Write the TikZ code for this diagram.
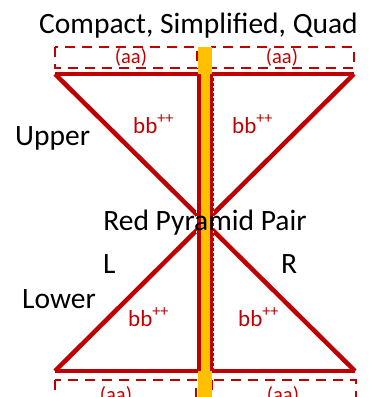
\documentclass[tikz,border=0pt]{standalone}
\usepackage{fontspec}
\setmainfont{Carlito}
\usepackage{xcolor}
\usetikzlibrary{positioning, calc}
\definecolor{pyrred}{HTML}{C00000}
\definecolor{baryellow}{HTML}{FFC000}

\begin{document}
\begin{tikzpicture}[x=1pt,y=-1pt,
    edge/.style={pyrred, line width=4.5pt},
    aabox/.style={pyrred, line width=2.5pt, dash pattern=on 10pt off 7pt},
    bigtxt/.style={font=\fontsize{29.5}{31}\selectfont, inner sep=0pt},
    bbtxt/.style={text=pyrred, font=\fontsize{23}{25}\selectfont, inner sep=0pt},
    aatxt/.style={text=pyrred, font=\fontsize{20.5}{22}\selectfont, inner sep=0pt}]

    \useasboundingbox (0,0) rectangle (372,397);
    \clip (0,0) rectangle (372,397);

    %--------------------------------
    % corners
    %--------------------------------
    \coordinate (tl) at (55,74);
    \coordinate (tr) at (354,74);
    \coordinate (bl) at (55,371);
    \coordinate (br) at (355,371);
    \coordinate (tml) at (198,74);
    \coordinate (tmr) at (211,74);
    \coordinate (bml) at (198,371);
    \coordinate (bmr) at (211,371);

    %--------------------------------
    % (aa) boxes
    %--------------------------------
    \draw[aabox] (55,47) rectangle (197,68);
    \draw[aabox] (211,47) rectangle (354,68);
    \draw[aabox] (55,380) rectangle (196,412);
    \draw[aabox] (212,380) rectangle (356,412);

    %--------------------------------
    % pyramid pair
    %--------------------------------
    \draw[edge] (tl) -- (br);
    \draw[edge] (tr) -- (bl);
    \draw[edge] (tl) -- (tml);
    \draw[edge] (tmr) -- (tr);
    \draw[edge] (bl) -- (bml);
    \draw[edge] (bmr) -- (br);

    % yellow bar
    \fill[baryellow] (198,47) rectangle (212,400);
    \foreach \x/\w in {198.5/196.6, 211.5/213.4}{
        \draw[pyrred, line width=4pt] (\x,74) -- (\x,371);
        \draw[white, line width=0.7pt, dash pattern=on 2pt off 3pt] (\w,76) -- (\w,369);
    }

    %--------------------------------
    % labels
    %--------------------------------
    \node[bigtxt, anchor=base] (title) at (198.5,33) {Compact, Simplified, Quad};
    \node[bigtxt, anchor=base west] (upper) at (15,145) {Upper};
    \node[bigtxt, anchor=base west] (lower) at (22,308) {Lower};
    \node[bigtxt, anchor=base] (pair) at (205,230) {Red Pyramid Pair};
    \node[bigtxt, anchor=base west] (left) at (103,273) {L};
    \node[bigtxt, anchor=base west] (right) at (281,273) {R};

    \foreach \n/\x/\y in {ul/133/133, ur/232/133, ll/128/326, lr/238/326}{
        \node[bbtxt, anchor=base west] (bb\n) at (\x,\y) {bb\textsuperscript{++}};
    }
    \foreach \n/\x/\y in {tl/131/57, tr/282/57, bl/116/395, br/283/395}{
        \node[aatxt] (aa\n) at (\x,\y) {(aa)};
    }

\end{tikzpicture}
\end{document}
